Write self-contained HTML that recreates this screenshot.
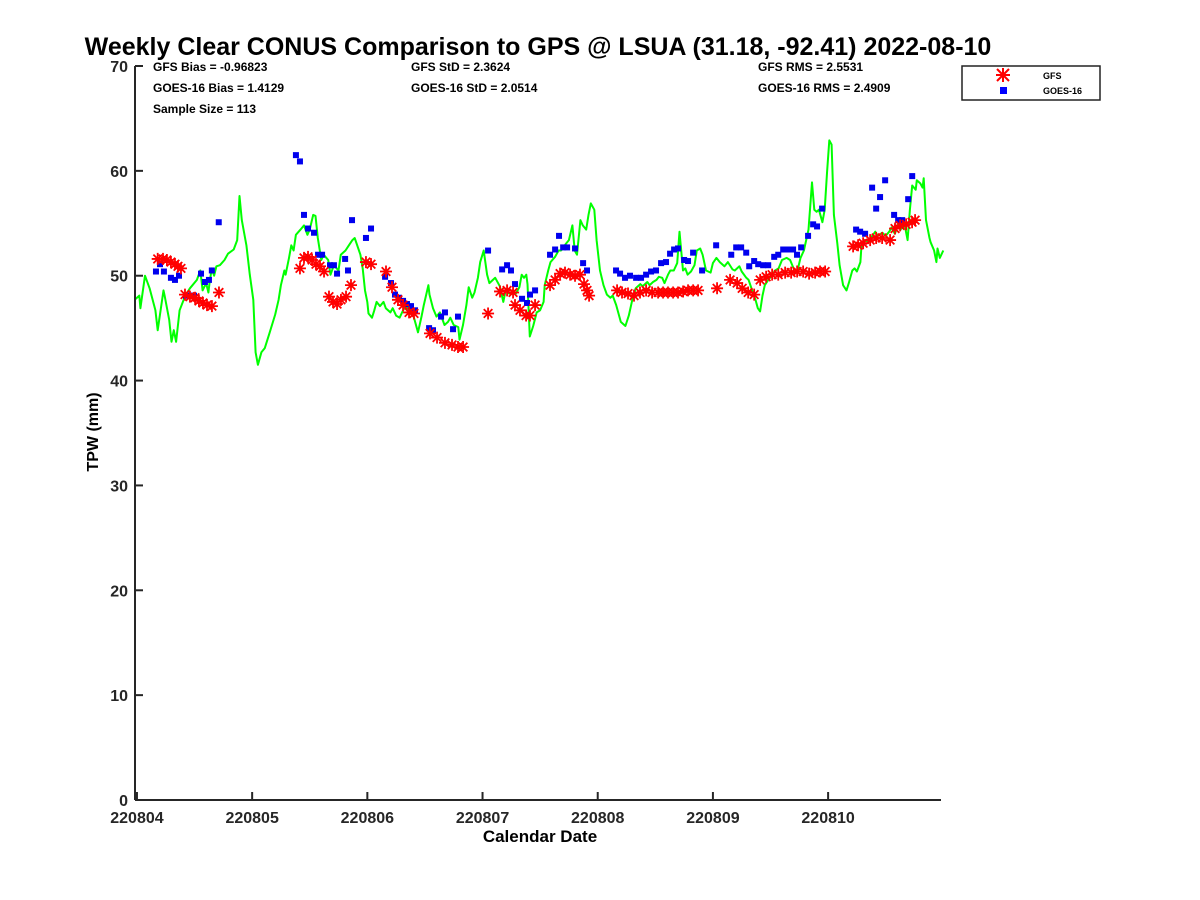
<!DOCTYPE html>
<html><head><meta charset="utf-8"><style>
body{margin:0;background:#fff;}
svg{display:block;font-family:"Liberation Sans",sans-serif;}
</style></head><body>
<svg id="chart" width="1200" height="900">
<rect width="1200" height="900" fill="#fff"/>
<text x="538" y="55" text-anchor="middle" font-size="25" font-weight="bold">Weekly Clear CONUS Comparison to GPS @ LSUA (31.18, -92.41) 2022-08-10</text>
<g font-size="12" font-weight="bold">
<text x="153" y="71">GFS Bias = -0.96823</text>
<text x="153" y="92">GOES-16 Bias = 1.4129</text>
<text x="153" y="113">Sample Size = 113</text>
<text x="411" y="71">GFS StD = 2.3624</text>
<text x="411" y="92">GOES-16 StD = 2.0514</text>
<text x="758" y="71">GFS RMS = 2.5531</text>
<text x="758" y="92">GOES-16 RMS = 2.4909</text>
</g>
<g>
<rect x="962" y="66" width="138" height="34" fill="#fff" stroke="#222" stroke-width="1.5"/>
<g>
<g stroke="#f00" stroke-width="2"><line x1="997" y1="69" x2="1009" y2="81"/><line x1="997" y1="81" x2="1009" y2="69"/><line x1="1003" y1="68" x2="1003" y2="82"/><line x1="996" y1="75" x2="1010" y2="75"/></g>
<text x="1043" y="79" font-size="9" font-weight="bold">GFS</text></g>
<g>
<rect x="1000" y="87" width="7" height="7" fill="#00f"/>
<text x="1043" y="94" font-size="9" font-weight="bold">GOES-16</text></g>
</g>
<g id="plot"></g>
<text x="540" y="842" text-anchor="middle" font-size="17" font-weight="bold">Calendar Date</text>
<text transform="translate(98,432) rotate(-90)" text-anchor="middle" font-size="16" font-weight="bold">TPW (mm)</text>
</svg>
<script>
const xTickLabels=["220804","220805","220806","220807","220808","220809","220810"];
const yTicks=[0,10,20,30,40,50,60,70];
const gpsDays=[-0.02,0.02,0.03,0.07,0.11,0.16,0.18,0.23,0.24,0.28,0.30,0.32,0.34,0.37,0.42,0.46,0.52,0.55,0.57,0.60,0.62,0.63,0.65,0.67,0.69,0.72,0.76,0.79,0.84,0.87,0.89,0.91,0.95,0.98,1.01,1.03,1.05,1.08,1.11,1.15,1.20,1.23,1.25,1.28,1.29,1.32,1.34,1.36,1.38,1.42,1.45,1.48,1.50,1.53,1.55,1.57,1.60,1.62,1.66,1.68,1.71,1.75,1.77,1.81,1.84,1.87,1.89,1.94,1.96,1.98,2.00,2.01,2.04,2.06,2.08,2.11,2.14,2.16,2.20,2.22,2.25,2.28,2.31,2.34,2.36,2.40,2.44,2.47,2.49,2.53,2.54,2.57,2.60,2.63,2.67,2.70,2.72,2.75,2.79,2.80,2.83,2.86,2.88,2.91,2.93,2.96,2.98,3.01,3.04,3.06,3.11,3.15,3.18,3.20,3.23,3.26,3.29,3.32,3.34,3.36,3.38,3.39,3.41,3.44,3.47,3.50,3.53,3.54,3.57,3.59,3.63,3.66,3.68,3.71,3.72,3.75,3.78,3.80,3.82,3.85,3.87,3.90,3.92,3.94,3.97,3.99,4.02,4.05,4.08,4.11,4.13,4.16,4.18,4.20,4.24,4.27,4.30,4.33,4.37,4.39,4.43,4.45,4.48,4.51,4.53,4.56,4.58,4.61,4.63,4.66,4.69,4.71,4.74,4.76,4.78,4.81,4.84,4.86,4.89,4.91,4.94,4.98,5.00,5.03,5.06,5.10,5.13,5.17,5.19,5.23,5.25,5.29,5.31,5.35,5.37,5.39,5.41,5.43,5.45,5.48,5.51,5.54,5.57,5.60,5.64,5.67,5.70,5.73,5.76,5.79,5.83,5.86,5.88,5.90,5.92,5.95,5.97,5.99,6.01,6.03,6.05,6.08,6.10,6.13,6.16,6.18,6.21,6.23,6.25,6.28,6.29,6.32,6.35,6.37,6.41,6.43,6.47,6.50,6.53,6.55,6.58,6.61,6.63,6.66,6.69,6.71,6.73,6.76,6.77,6.80,6.82,6.83,6.85,6.88,6.89,6.92,6.94,6.95,6.97,7.00];
const gpsValues=[47.7,48.1,46.9,50.0,48.8,46.7,44.8,48.6,48.1,45.8,43.7,44.8,43.7,46.7,48.1,48.8,49.6,50.5,48.6,49.3,48.4,49.3,50.7,50.0,50.9,51.0,51.5,52.1,52.5,53.4,57.6,55.3,52.9,50.1,47.7,42.7,41.5,42.7,43.1,44.5,46.3,47.7,49.1,50.5,50.1,51.7,52.9,52.4,53.9,54.4,54.8,53.9,54.4,55.8,55.7,53.6,51.5,52.0,51.5,50.1,51.0,50.5,52.0,52.4,52.9,53.4,53.6,52.0,50.7,48.6,47.5,46.4,46.0,46.7,47.5,47.1,47.5,46.9,46.5,46.9,46.2,46.0,46.7,47.2,46.7,46.2,44.6,46.1,47.2,49.1,48.2,46.9,46.1,46.5,45.3,45.6,46.0,45.3,45.1,43.9,45.3,47.2,48.9,47.9,48.4,49.8,51.3,52.4,50.1,49.3,49.8,49.0,47.5,48.6,48.3,48.4,48.3,48.9,50.1,49.8,50.1,49.2,44.2,45.2,46.5,46.7,47.5,49.1,50.5,51.3,51.8,52.4,52.4,52.7,53.0,53.4,54.8,52.4,52.0,55.3,54.8,54.4,55.8,56.9,56.3,53.4,50.5,49.1,48.2,47.9,48.1,47.2,46.4,45.6,45.2,46.2,47.7,48.8,49.2,49.0,49.4,49.1,49.4,49.6,49.9,49.8,49.3,50.1,50.5,50.5,51.2,54.2,50.5,50.7,50.1,50.4,51.0,52.4,52.6,52.0,50.5,50.3,51.2,51.7,51.3,50.9,51.3,50.6,50.5,50.9,50.4,49.8,49.6,48.3,47.7,46.9,46.6,48.1,49.1,49.6,50.0,50.5,50.7,51.5,51.7,51.5,50.7,50.3,51.7,52.4,54.4,58.9,56.3,56.1,56.3,55.1,56.3,59.8,62.9,62.5,55.8,53.1,51.0,49.1,48.6,49.3,50.5,50.7,50.4,51.3,52.9,53.4,53.2,53.6,54.2,53.8,54.1,53.8,54.2,54.6,54.0,55.0,54.4,55.1,53.4,56.3,58.6,58.2,59.1,58.8,58.4,59.3,55.3,53.6,53.2,52.4,51.3,52.6,51.7,52.4];
const goesDays=[0.165,0.20,0.234,0.295,0.33,0.365,0.425,0.46,0.495,0.556,0.59,0.625,0.65,0.71,1.38,1.415,1.45,1.485,1.537,1.572,1.607,1.676,1.71,1.737,1.807,1.832,1.867,1.988,2.032,2.154,2.205,2.24,2.275,2.31,2.344,2.379,2.414,2.536,2.57,2.64,2.674,2.744,2.787,3.048,3.17,3.213,3.247,3.282,3.343,3.386,3.412,3.456,3.586,3.63,3.664,3.70,3.734,3.803,3.873,3.907,4.159,4.194,4.237,4.28,4.333,4.376,4.42,4.463,4.506,4.55,4.593,4.628,4.663,4.697,4.75,4.784,4.828,4.906,5.028,5.159,5.202,5.245,5.289,5.315,5.358,5.393,5.436,5.48,5.532,5.567,5.61,5.653,5.696,5.73,5.766,5.826,5.87,5.904,5.948,6.243,6.278,6.321,6.382,6.417,6.451,6.495,6.573,6.608,6.643,6.695,6.73];
const goesValues=[50.4,51.1,50.4,49.8,49.6,50.0,48.1,48.1,48.1,50.2,49.4,49.6,50.5,55.1,61.5,60.9,55.8,54.5,54.1,52.0,52.0,51.0,51.0,50.2,51.6,50.5,55.3,53.6,54.5,49.9,49.3,48.2,47.9,47.6,47.3,47.1,46.7,45.0,44.8,46.1,46.5,44.9,46.1,52.4,50.6,51.0,50.5,49.2,47.8,47.4,48.2,48.6,52.0,52.5,53.8,52.7,52.7,52.6,51.2,50.5,50.5,50.2,49.8,50.0,49.8,49.8,50.1,50.4,50.5,51.2,51.3,52.1,52.5,52.6,51.5,51.4,52.2,50.5,52.9,52.0,52.7,52.7,52.2,50.9,51.4,51.1,51.0,51.0,51.8,52.0,52.5,52.5,52.5,52.0,52.7,53.8,54.9,54.7,56.4,54.4,54.2,54.0,58.4,56.4,57.5,59.1,55.8,55.3,55.3,57.3,59.5];
const gfsDays=[0.18,0.226,0.26,0.295,0.33,0.356,0.382,0.417,0.46,0.504,0.538,0.573,0.608,0.651,0.712,1.415,1.45,1.485,1.52,1.554,1.589,1.624,1.667,1.702,1.737,1.771,1.815,1.858,1.988,2.032,2.162,2.214,2.266,2.31,2.362,2.405,2.544,2.605,2.674,2.735,2.787,2.831,3.048,3.152,3.213,3.265,3.282,3.325,3.378,3.412,3.456,3.586,3.63,3.673,3.716,3.76,3.803,3.846,3.881,3.907,3.925,4.168,4.211,4.263,4.315,4.367,4.42,4.472,4.524,4.567,4.61,4.654,4.697,4.741,4.784,4.828,4.871,5.036,5.149,5.21,5.254,5.306,5.358,5.41,5.462,5.514,5.567,5.627,5.679,5.731,5.783,5.835,5.887,5.93,5.974,6.217,6.26,6.304,6.365,6.417,6.469,6.538,6.581,6.625,6.677,6.729,6.755];
const gfsValues=[51.6,51.6,51.5,51.3,51.1,50.9,50.7,48.2,48.0,47.9,47.6,47.4,47.2,47.1,48.4,50.7,51.7,51.8,51.5,51.1,50.9,50.4,48.0,47.5,47.3,47.7,48.0,49.1,51.3,51.1,50.4,48.9,47.7,47.2,46.5,46.4,44.5,44.1,43.6,43.4,43.2,43.2,46.4,48.5,48.6,48.4,47.2,46.7,46.2,46.2,47.2,49.1,49.6,50.2,50.3,50.1,50.0,50.1,49.2,48.6,48.1,48.6,48.4,48.3,48.1,48.4,48.6,48.4,48.4,48.4,48.4,48.4,48.4,48.5,48.6,48.6,48.6,48.8,49.6,49.3,48.8,48.4,48.2,49.6,49.9,50.1,50.1,50.3,50.3,50.4,50.4,50.2,50.3,50.4,50.4,52.8,52.9,53.1,53.4,53.6,53.6,53.4,54.5,54.8,54.9,55.1,55.3];

const L=135,R=941,T=66,B=800;
const X0=-0.017,X1=6.98,Y0=0,Y1=70;
const xs=d=>L+(d-X0)/(X1-X0)*(R-L);
const ys=v=>B-(v-Y0)/(Y1-Y0)*(B-T);
const NS="http://www.w3.org/2000/svg";
const plot=document.getElementById('plot');
function mk(tag,attrs,parent){const e=document.createElementNS(NS,tag);for(const k in attrs)e.setAttribute(k,attrs[k]);(parent||plot).appendChild(e);return e;}

// GPS line
const pts=gpsDays.map((d,i)=>xs(d).toFixed(1)+','+ys(gpsValues[i]).toFixed(1)).join(' ');
const line=mk('polyline',{points:pts,fill:'none',stroke:'#00ff00','stroke-width':2,'stroke-linejoin':'round'});



// GOES squares
const gg=mk('g',{fill:'#0000ee'});


goesDays.forEach((d,i)=>{
  const r=mk('rect',{x:xs(d)-3,y:ys(goesValues[i])-3,width:6,height:6},gg);
  
  
});

// GFS asterisks
const gf=mk('g',{stroke:'#ff0000','stroke-width':1.8});


gfsDays.forEach((d,i)=>{
  const cx=xs(d),cy=ys(gfsValues[i]),s=6,q=4.3;
  const p=mk('path',{d:`M${cx-s},${cy}H${cx+s}M${cx},${cy-s}V${cy+s}M${cx-q},${cy-q}L${cx+q},${cy+q}M${cx-q},${cy+q}L${cx+q},${cy-q}`,fill:'none'},gf);
  
  
});

// axes
const ax=mk('g',{stroke:'#262626','stroke-width':2,fill:'none'});


mk('line',{x1:L,y1:T,x2:L,y2:B},ax);
mk('line',{x1:L,y1:B,x2:R,y2:B},ax);
yTicks.forEach(v=>{
  const y=ys(v);
  mk('line',{x1:L,y1:y,x2:L+8,y2:y},ax);
  const t=mk('text',{x:L-7,y:y+6,'text-anchor':'end','font-size':16,'font-weight':'bold',fill:'#262626',stroke:'none'});
  t.textContent=v;
  
  
});
xTickLabels.forEach((lab,i)=>{
  const x=xs(i);
  mk('line',{x1:x,y1:B,x2:x,y2:B-8},ax);
  const t=mk('text',{x:x,y:B+23,'text-anchor':'middle','font-size':16,'font-weight':'bold',fill:'#262626',stroke:'none'});
  t.textContent=lab;
  
  
});
</script>
</body></html>
